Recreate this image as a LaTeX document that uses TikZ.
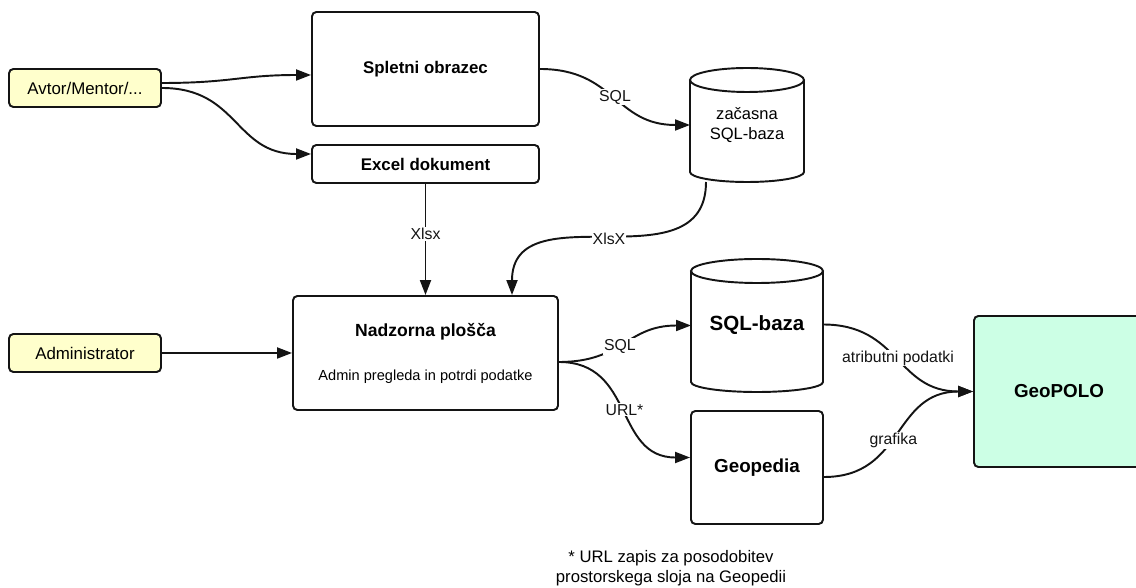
\documentclass[tikz,border=0pt]{standalone}
\usepackage{fontspec}
\setmainfont{Liberation Sans}
\usepackage{tikz}
\usetikzlibrary{arrows.meta, calc}
\definecolor{GPYellow}{RGB}{255,255,204}
\definecolor{GPMint}{RGB}{204,255,229}
\definecolor{GPInk}{RGB}{20,20,20}

\begin{document}
\begin{tikzpicture}[
    blk/.style={rectangle, rounded corners=2.5pt, draw=GPInk, line width=1.1pt,
                font=\fontsize{9.6}{11.5}\selectfont\bfseries, align=center},
    act/.style={blk, fill=GPYellow, minimum width=3.04cm, minimum height=0.76cm,
                font=\fontsize{9.6}{11.5}\selectfont},
    db/.style={rectangle, outer sep=0pt, minimum width=#1, align=center},
    lnk/.style={-{Triangle[length=0.3cm, width=0.22cm]}, line width=1.1pt, GPInk,
                looseness=1.2},
    lbl/.style={fill=white, inner sep=0.6pt, font=\fontsize{9}{11}\selectfont}
  ]
  \useasboundingbox (0,0) rectangle (22.72,-11.76);

  \node[act] (avtor) at (1.70,-1.76) {Avtor/Mentor/...};
  \node[act] (admin) at (1.70,-7.06) {Administrator};
  \node[blk, minimum width=4.54cm, minimum height=2.28cm] (splet) at (8.51,-1.38) {Spletni obrazec};
  \node[blk, minimum width=4.54cm, minimum height=0.76cm] (excel) at (8.51,-3.28) {Excel dokument};
  \node[blk, minimum width=5.30cm, minimum height=2.28cm, font=\fontsize{10}{12}\selectfont\bfseries]
       (nadz) at (8.51,-7.06) {Nadzorna plošča\\[13pt]
       {\fontsize{8.3}{10}\selectfont\mdseries Admin pregleda in potrdi podatke}};
  \node[db=2.28cm, minimum height=2.28cm, font=\fontsize{9.4}{11.5}\selectfont]
       (zac) at (14.94,-2.50) {začasna\\SQL-baza};
  \node[db=2.64cm, minimum height=2.66cm, font=\fontsize{11.7}{14}\selectfont\bfseries]
       (sqlb) at (15.14,-6.51) {\raisebox{-0.1cm}{SQL-baza}};
  \node[blk, minimum width=2.64cm, minimum height=2.26cm, font=\fontsize{10.7}{13}\selectfont\bfseries]
       (geop) at (15.14,-9.35) {Geopedia};
  \node[blk, fill=GPMint, minimum width=3.40cm, minimum height=3.02cm, font=\fontsize{10.7}{13}\selectfont\bfseries]
       (geopolo) at (21.18,-7.83) {GeoPOLO};

  % Cylinders
  \foreach \c/\rad in {zac/1.14, sqlb/1.32}{
    \draw[line width=1.1pt, GPInk] ($(\c.north)+(0,-0.24)$) ellipse [x radius=\rad, y radius=0.24];
    \draw[line width=1.1pt, GPInk] ($(\c.north west)+(0,-0.24)$) -- ($(\c.south west)+(0,0.2)$)
         arc[start angle=180, end angle=360, x radius=\rad, y radius=0.2]
         -- ($(\c.north east)+(0,-0.24)$);
  }

  \draw[lnk] ([yshift=0.1cm]avtor.east) to[out=0, in=180] ([yshift=-0.12cm]splet.west);
  \draw[lnk] (avtor.east) to[out=0, in=180] ([yshift=0.2cm]excel.west);
  \draw[lnk] (splet.east) to[out=0, in=180] node[lbl] (l1) {SQL} (zac.west);
  \draw[lnk] ([xshift=-0.82cm]zac.south) to[out=-90, in=90] node[lbl] (l2) {XlsX} ([xshift=1.73cm]nadz.north);
  \draw[lnk] (excel.south) -- node[lbl, pos=0.45] (l3) {Xlsx} (nadz.north);
  \draw[lnk] (admin.east) -- (nadz.west);
  \draw[lnk] ([yshift=-0.18cm]nadz.east) to[out=0, in=180] node[lbl, pos=0.45] (l4) {SQL} (sqlb.west);
  \draw[lnk] ([yshift=-0.18cm]nadz.east) to[out=0, in=180] node[lbl] (l5) {URL*} ([yshift=0.2cm]geop.west);
  \draw[lnk] ([yshift=0.02cm]sqlb.east) to[out=0, in=180] node[lbl] (l6) {atributni podatki} (geopolo.west);
  \draw[lnk] ([yshift=-0.19cm]geop.east) to[out=0, in=180] node[lbl, pos=0.45] (l7) {grafika} (geopolo.west);

  \node[font=\fontsize{9.5}{11.4}\selectfont, align=center] (fn) at (13.42,-11.36)
       {* URL zapis za posodobitev\\prostorskega sloja na Geopedii};
\end{tikzpicture}
\end{document}
